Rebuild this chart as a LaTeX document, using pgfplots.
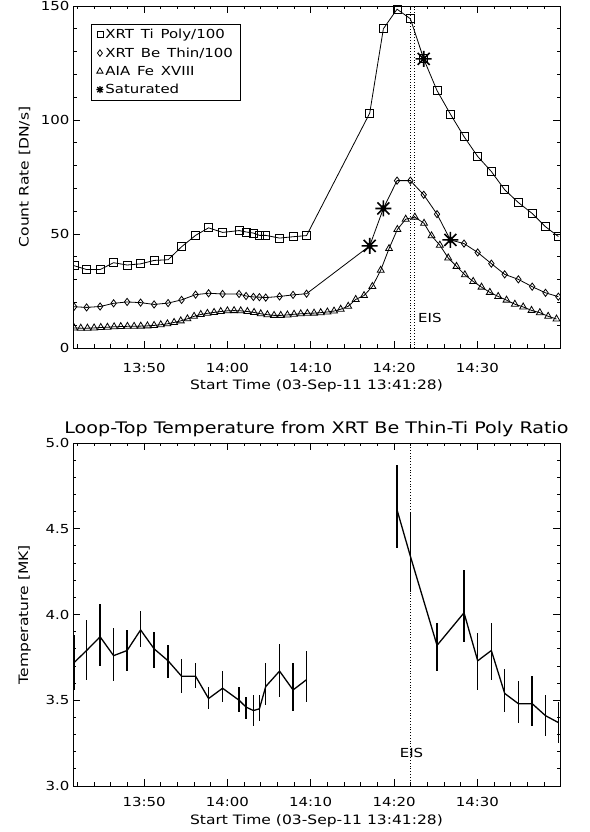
\documentclass[border=0pt]{standalone}
\usepackage{fontspec}
\setmainfont{DejaVu Sans}[FakeStretch=1.2]
\usepackage{pgfplots}
\pgfplotsset{compat=1.18}
\usepackage{pgfplotstable}

\newcommand\legfont{\fontsize{12.5}{13}\selectfont\spaceskip=0.55em plus 0.1em\relax}

\pgfdeclareplotmark{idlstar}{%
 \pgfpathmoveto{\pgfpoint{-\pgfplotmarksize}{0pt}}\pgfpathlineto{\pgfpoint{\pgfplotmarksize}{0pt}}%
 \pgfpathmoveto{\pgfpoint{0pt}{-\pgfplotmarksize}}\pgfpathlineto{\pgfpoint{0pt}{\pgfplotmarksize}}%
 \pgfpathmoveto{\pgfpoint{-.75\pgfplotmarksize}{-.75\pgfplotmarksize}}\pgfpathlineto{\pgfpoint{.75\pgfplotmarksize}{.75\pgfplotmarksize}}%
 \pgfpathmoveto{\pgfpoint{-.75\pgfplotmarksize}{.75\pgfplotmarksize}}\pgfpathlineto{\pgfpoint{.75\pgfplotmarksize}{-.75\pgfplotmarksize}}%
 \pgfusepathqstroke}

% XRT count rates (time in minutes after 13:00)
\pgfplotstableread{
t ti be
41.60 36.1 18.1
43.10 34.4 17.8
44.72 34.4 18.2
46.34 37.4 19.6
47.96 36.4 20.2
49.58 36.9 19.9
51.20 38.4 19.1
52.88 38.7 19.7
54.50 44.4 21.1
56.18 49.4 23.4
57.74 52.7 24.0
59.42 50.7 23.7
61.40 51.5 23.7
62.24 50.9 22.8
63.12 50.4 22.4
63.84 49.4 22.3
64.60 49.4 22.1
66.26 48.2 22.6
67.88 48.8 23.3
69.50 49.3 23.8
77.08 103.0 44.8
78.72 140.0 61.2
80.36 148.6 73.4
81.96 144.4 73.4
83.56 126.8 67.2
85.16 112.9 58.7
86.76 102.6 47.4
88.40 92.7 45.8
90.04 84.0 41.9
91.68 77.4 37.0
93.28 69.4 32.3
94.92 63.8 30.1
96.58 59.0 26.9
98.18 53.2 24.2
99.72 48.9 22.5
}\xrt

\pgfplotstableread{
t v
41.6 8.8
42.4 8.7
43.2 8.7
44.0 8.8
44.8 9.0
45.6 9.1
46.4 9.3
47.2 9.4
48.0 9.5
48.8 9.5
49.6 9.6
50.4 9.7
51.2 9.9
52.0 10.2
52.8 10.6
53.6 11.2
54.4 11.9
55.2 12.8
56.0 13.9
56.8 14.7
57.6 15.2
58.4 15.6
59.2 16.0
60.0 16.3
60.8 16.4
61.6 16.3
62.4 16.0
63.2 15.6
64.0 15.0
64.8 14.6
65.6 14.3
66.4 14.3
67.2 14.5
68.0 14.8
68.8 15.0
69.6 15.2
70.4 15.3
71.2 15.5
72.0 15.8
72.8 16.2
73.6 17.0
74.5 18.3
75.4 21.3
76.4 23.0
77.4 27.0
78.4 34.1
79.4 43.6
80.4 52.0
81.4 56.5
82.5 57.4
83.6 54.7
84.5 49.2
85.5 45.1
86.5 39.5
87.5 35.8
88.5 32.1
89.5 29.2
90.5 26.7
91.5 24.4
92.5 22.6
93.5 21.0
94.5 19.2
95.5 18.0
96.5 16.5
97.5 15.5
98.5 13.9
99.5 12.7
}\aia

\pgfplotstableread{
t v
77.08 44.8
78.72 61.2
83.56 126.8
86.76 47.4
}\sat

\pgfplotstableread{
t v ep em
41.60 3.72 0.16 0.16
43.10 3.79 0.18 0.17
44.72 3.87 0.19 0.17
46.34 3.76 0.16 0.15
47.96 3.79 0.12 0.12
49.58 3.91 0.11 0.10
51.20 3.80 0.10 0.11
52.88 3.73 0.09 0.10
54.50 3.64 0.10 0.10
56.18 3.64 0.08 0.07
57.74 3.51 0.07 0.06
59.42 3.57 0.10 0.08
61.40 3.50 0.08 0.07
62.24 3.46 0.06 0.07
63.12 3.44 0.09 0.09
63.84 3.45 0.08 0.07
64.60 3.58 0.14 0.11
66.26 3.67 0.16 0.15
67.88 3.56 0.16 0.12
69.50 3.62 0.17 0.13
}\tempa

\pgfplotstableread{
t v ep em
80.36 4.61 0.26 0.22
81.96 4.34 0.25 0.21
85.16 3.82 0.13 0.15
88.40 4.01 0.25 0.17
90.04 3.73 0.16 0.17
91.68 3.79 0.16 0.17
93.28 3.54 0.14 0.11
94.92 3.48 0.13 0.11
96.58 3.48 0.16 0.13
98.18 3.41 0.12 0.12
99.72 3.37 0.12 0.12
}\tempb

\pgfplotsset{idl/.style={
  scale only axis, width=487bp,
  xmin=41.467, xmax=99.92,
  xtick={50,60,70,80,90},
  xticklabels={13:50,14:00,14:10,14:20,14:30},
  minor xtick={42,44,...,98},
  major tick length=7bp, minor tick length=3.5bp,
  tick style={line width=0.8bp, black},
  axis line style={line width=0.8bp},
  tick label style={font=\fontsize{12.5}{14}\selectfont},
  label style={font=\fontsize{13}{15}\selectfont},
  xlabel={Start Time (03-Sep-11 13:41:28)},
  /pgf/number format/assume math mode=true,
  clip marker paths=true,
}}

\begin{document}
\begin{tikzpicture}
\path[use as bounding box] (0,0) rectangle (590bp,832bp);

\begin{axis}[idl,
  at={(73bp,484bp)}, anchor=south west, height=342bp,
  ymin=0, ymax=150,
  ytick={0,50,100,150}, yticklabels={0,50,100,150},
  minor ytick={10,20,30,40,60,70,80,90,110,120,130,140},
  ylabel={Count Rate [DN/s]},
  ylabel style={at={(axis description cs:-0.0996,0.5)}, anchor=center},
  xlabel style={at={(axis description cs:0.5,-0.111)}, anchor=center},
  xticklabel style={yshift=-12bp},
  legend style={at={(axis description cs:0.037,0.948)}, anchor=north west, draw=black,
    line width=0.8bp, font=\legfont,
    inner xsep=5bp, inner ysep=3bp, row sep=3.5bp,
    cells={anchor=west}},
  legend cell align=left,
]
\addplot[dotted, line width=0.8bp, forget plot] coordinates {(81.92,0) (81.92,150)};
\addplot[dotted, line width=0.8bp, forget plot] coordinates {(82.44,0) (82.44,150)};
\addplot[black, line width=0.8bp, mark=square, mark size=4bp, forget plot] table[x=t,y=ti] {\xrt};
\addplot[black, line width=0.8bp, mark=diamond, mark size=3.6bp, forget plot] table[x=t,y=be] {\xrt};
\addplot[black, line width=0.8bp, mark=triangle, mark size=4bp, forget plot] table[x=t,y=v] {\aia};
\addplot[black, only marks, mark=idlstar, mark size=8bp, line width=1.6bp, forget plot] table[x=t,y=v] {\sat};
\addlegendimage{only marks, black, mark=square, mark size=3bp, line width=0.8bp}
\addlegendentry{XRT Ti Poly/100}
\addlegendimage{only marks, black, mark=diamond, mark size=3.3bp, line width=0.8bp}
\addlegendentry{XRT Be Thin/100}
\addlegendimage{only marks, black, mark=triangle, mark size=3.6bp, line width=0.8bp}
\addlegendentry{AIA Fe XVIII}
\addlegendimage{only marks, black, mark=idlstar, mark size=3.5bp, line width=1.2bp}
\addlegendentry{Saturated}
\node[anchor=west, inner sep=0pt, font=\fontsize{12.5}{14}\selectfont] at (axis cs:82.88,13.3) {EIS};
\end{axis}

\begin{axis}[idl,
  at={(73bp,46bp)}, anchor=south west, height=343bp,
  ymin=3.0, ymax=5.0,
  ytick={3.0,3.5,4.0,4.5,5.0}, yticklabels={3.0,3.5,4.0,4.5,5.0},
  minor ytick={3.1,3.2,3.3,3.4,3.6,3.7,3.8,3.9,4.1,4.2,4.3,4.4,4.6,4.7,4.8,4.9},
  ylabel={Temperature [MK]},
  ylabel style={at={(axis description cs:-0.0996,0.5)}, anchor=center},
  xlabel style={at={(axis description cs:0.5,-0.102)}, anchor=center},
  xticklabel style={yshift=-8bp},
  title={Loop-Top Temperature from XRT Be Thin-Ti Poly Ratio},
  title style={at={(axis description cs:0.5,1.023)}, anchor=center, font=\fontsize{16}{18}\selectfont},
]
\addplot[dotted, line width=0.8bp] coordinates {(82.0,3.0) (82.0,5.0)};
\addplot[black, line width=1.3bp, no marks,
  error bars/.cd, y dir=both, y explicit, error mark=none,
  error bar style={line width=1.4bp}]
  table[x=t, y=v, y error plus=ep, y error minus=em] {\tempa};
\addplot[black, line width=1.3bp, no marks,
  error bars/.cd, y dir=both, y explicit, error mark=none,
  error bar style={line width=1.4bp}]
  table[x=t, y=v, y error plus=ep, y error minus=em] {\tempb};
\node[anchor=center, inner sep=0pt, font=\fontsize{12.5}{14}\selectfont] at (axis cs:82.1,3.19) {EIS};
\end{axis}
\end{tikzpicture}
\end{document}
